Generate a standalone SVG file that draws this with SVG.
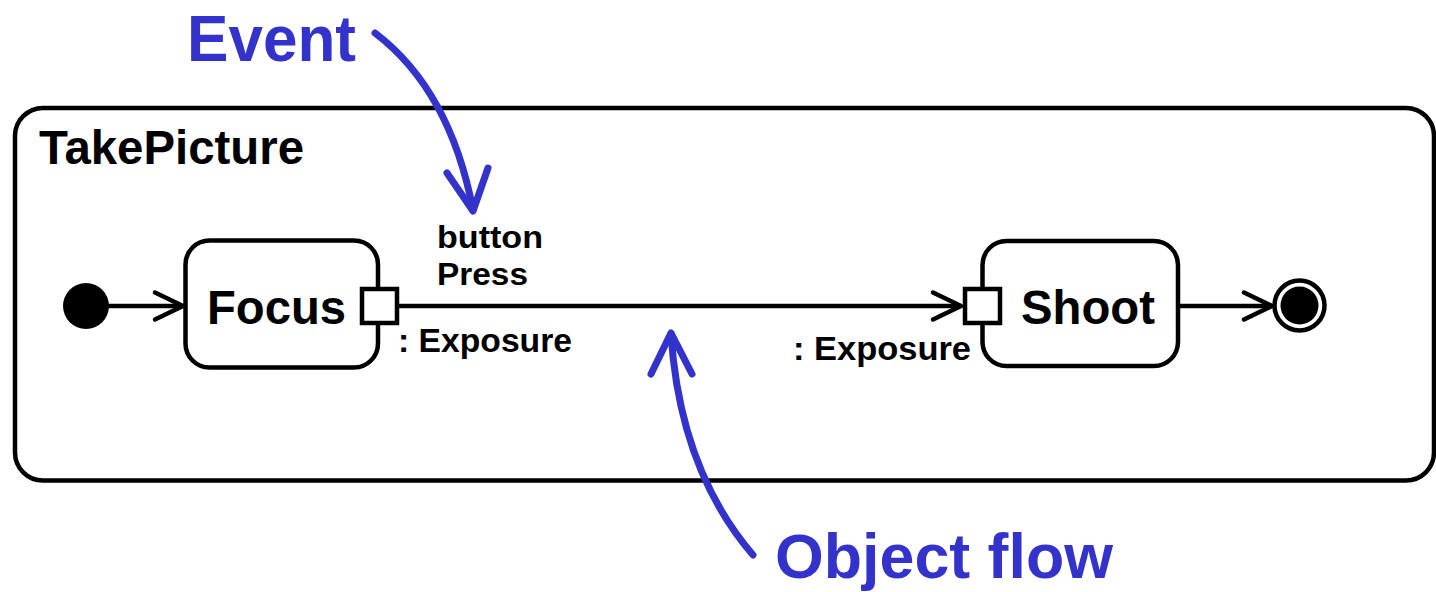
<svg xmlns="http://www.w3.org/2000/svg" width="1436" height="592" viewBox="0 0 1436 592">
<defs>
<style>
.t{font-family:"Liberation Sans",Arial,Helvetica,sans-serif;font-weight:bold;fill:#000}
.b{fill:#3333cc}
.ln{fill:none;stroke:#000;stroke-width:4.5}
.ch{fill:none;stroke:#000;stroke-width:4.5;stroke-linecap:round;stroke-linejoin:round}
.box{fill:#fff;stroke:#000;stroke-width:4.5}
.ba{fill:none;stroke:#3333cc;stroke-width:7;stroke-linecap:round;stroke-linejoin:round}
</style>
</defs>
<rect width="1436" height="592" fill="#fff"/>
<g id="frame">
<rect x="15" y="108" width="1419" height="372.5" rx="28" ry="28" class="box"/>
<text class="t" x="39" y="164" font-size="48" textLength="265" lengthAdjust="spacingAndGlyphs">TakePicture</text>
</g>
<g id="connectors">
<line x1="108" y1="306" x2="183" y2="306" class="ln"/>
<polyline points="155,292.5 183,306 155,319.5" class="ch"/>
<line x1="399" y1="306" x2="961" y2="306" class="ln"/>
<polyline points="933,292.5 961,306 933,319.5" class="ch"/>
<line x1="1178" y1="306" x2="1272" y2="306" class="ln"/>
<polyline points="1244,292.5 1272,306 1244,319.5" class="ch"/>
</g>
<g id="initial">
<circle cx="86" cy="306" r="23" fill="#000"/>
</g>
<g id="focus">
<rect x="185.5" y="240.5" width="192.5" height="127" rx="24" ry="24" class="box"/>
<text class="t" x="207" y="324" font-size="48" textLength="139" lengthAdjust="spacingAndGlyphs">Focus</text>
<rect x="362" y="289" width="35" height="34" class="box"/>
</g>
<g id="shoot">
<rect x="982.5" y="241" width="195.5" height="125" rx="24" ry="24" class="box"/>
<text class="t" x="1021" y="324" font-size="48" textLength="134" lengthAdjust="spacingAndGlyphs">Shoot</text>
<rect x="965" y="289" width="35" height="34" class="box"/>
</g>
<g id="final">
<circle cx="1299.5" cy="305.5" r="25" fill="#fff" stroke="#000" stroke-width="4.5"/>
<circle cx="1299.5" cy="305.5" r="19" fill="#000"/>
</g>
<g id="labels">
<text class="t" x="437" y="248" font-size="32" textLength="106" lengthAdjust="spacingAndGlyphs">button</text>
<text class="t" x="437" y="285" font-size="32" textLength="91" lengthAdjust="spacingAndGlyphs">Press</text>
<text class="t" x="398" y="352" font-size="33" textLength="174" lengthAdjust="spacingAndGlyphs">: Exposure</text>
<text class="t" x="793" y="360" font-size="33" textLength="178" lengthAdjust="spacingAndGlyphs">: Exposure</text>
</g>
<g id="event-note">
<text class="t b" x="187" y="61" font-size="64" textLength="169" lengthAdjust="spacingAndGlyphs">Event</text>
<path d="M375,33 Q450,90 473,210" class="ba"/>
<polyline points="447,173 473,211 488,168" class="ba"/>
</g>
<g id="objectflow-note">
<text class="t b" x="775" y="578" font-size="63" textLength="338" lengthAdjust="spacingAndGlyphs">Object flow</text>
<path d="M753,555 Q680,470 671,334" class="ba"/>
<polyline points="651,374 671,333 692,374" class="ba"/>
</g>
</svg>
